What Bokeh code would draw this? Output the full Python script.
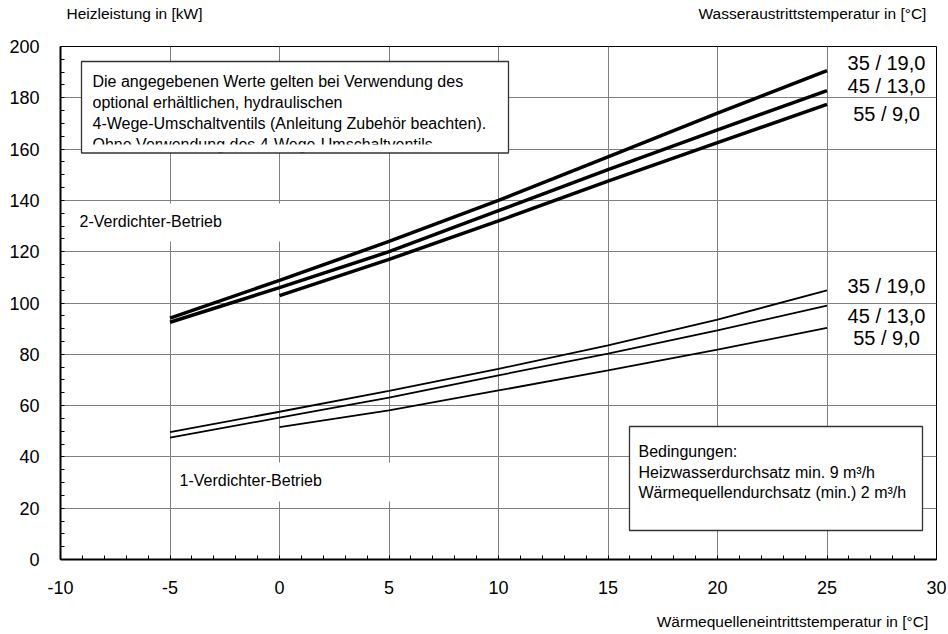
from bokeh.plotting import figure
from bokeh.models import SingleIntervalTicker, FixedTicker, LinearAxis
from bokeh.core.properties import value
from bokeh.embed import file_html
from bokeh.resources import INLINE

# ---------------- data ----------------
x_from_m5 = [-5, 0, 5, 10, 15, 20, 25]
x_from_0 = [0, 5, 10, 15, 20, 25]

# 2-Verdichter-Betrieb (thick lines)
two_35_19 = [94.1, 108.8, 124.0, 140.0, 157.0, 174.0, 190.6]
two_45_13 = [92.5, 106.0, 120.0, 136.0, 152.0, 167.5, 182.8]
two_55_9 = [102.9, 117.0, 132.0, 147.5, 162.5, 177.4]

# 1-Verdichter-Betrieb (thin lines)
one_35_19 = [49.7, 57.6, 65.7, 74.3, 83.5, 93.5, 104.9]
one_45_13 = [47.5, 55.3, 63.1, 71.8, 80.3, 89.3, 99.0]
one_55_9 = [51.6, 58.1, 65.9, 73.7, 81.8, 90.3]

series_labels = ["35 / 19,0", "45 / 13,0", "55 / 9,0"]

x_ticks_interval = 5
y_ticks_interval = 20
x_tick_overrides = {-10: "-10", -5: "-5"}

y_title = "Heizleistung in [kW]"
legend_title = "Wasseraustrittstemperatur in [°C]"
x_title = "Wärmequelleneintrittstemperatur in [°C]"

note_lines = [
    "Die angegebenen Werte gelten bei Verwendung des",
    "optional erhältlichen, hydraulischen",
    "4-Wege-Umschaltventils (Anleitung Zubehör beachten).",
    "Ohne Verwendung des 4-Wege-Umschaltventils",
]
cond_lines = [
    "Bedingungen:",
    "Heizwasserdurchsatz min. 9 m³/h",
    "Wärmequellendurchsatz (min.) 2 m³/h",
]

FONT = "Liberation Sans"

# ---------------- layout helpers (page pixel -> data) ----------------
FL, FW, FT, FH = 60, 876, 46, 513   # frame left/width/top/height on canvas
XMIN, XMAX, YMIN, YMAX = -10, 30, 0, 200


def dx(px):
    return XMIN + (px - FL) / FW * (XMAX - XMIN)


def dy(py):
    return YMIN + (FT + FH - py) / FH * (YMAX - YMIN)


UPY = (YMAX - YMIN) / FH   # data units per pixel (y)

p = figure(frame_width=FW, frame_height=FH, x_range=(XMIN, XMAX), y_range=(YMIN, YMAX),
           output_backend="svg", toolbar_location=None,
           min_border_left=FL, min_border_right=11, min_border_top=FT, min_border_bottom=60)
p.background_fill_color = "white"
p.border_fill_color = "white"
p.outline_line_color = "black"
p.outline_line_width = 1

xt = SingleIntervalTicker(interval=x_ticks_interval, num_minor_ticks=5)
yt = SingleIntervalTicker(interval=y_ticks_interval, num_minor_ticks=4)
p.xaxis.ticker = xt
p.yaxis.ticker = yt
p.xgrid.ticker = xt
p.ygrid.ticker = yt
p.xaxis.major_label_overrides = x_tick_overrides
for g in (p.xgrid, p.ygrid):
    g.grid_line_color = "#808080"
    g.grid_line_width = 1

for ax in (p.xaxis, p.yaxis):
    ax.axis_line_color = "black"
    ax.axis_line_width = 2
    ax.major_tick_in = 0
    ax.major_tick_out = 0
    ax.minor_tick_in = 4
    ax.minor_tick_out = 0
    ax.minor_tick_line_color = "black"
    ax.major_label_text_font = FONT
    ax.major_label_text_font_size = "18px"
    ax.major_label_text_color = "black"
p.yaxis.major_label_standoff = 21
p.xaxis.major_label_standoff = 21


def title_axis(ticks, texts, standoff):
    return LinearAxis(ticker=FixedTicker(ticks=ticks, minor_ticks=[]),
                      major_label_overrides=dict(zip(ticks, texts)),
                      axis_line_color=None, major_tick_line_color=None,
                      minor_tick_line_color=None, major_label_standoff=standoff,
                      major_label_text_font=FONT, major_label_text_font_size="15.5px",
                      major_label_text_color="black")


# ---------------- titles (as tick labels of extra, invisible axes) ----------------
t1 = round(dx(134), 4)
t2 = round(dx(812), 4)
p.add_layout(title_axis([t1, t2], [y_title, legend_title], 19), "above")
t3 = round(dx(792), 4)
p.add_layout(title_axis([t3], [x_title], 10), "below")

# ---------------- label background boxes (hide grid) ----------------
p.quad(left=[dx(68), dx(172)], right=[dx(292), dx(395)],
       top=[dy(203), dy(462)], bottom=[dy(241), dy(501)],
       fill_color="white", line_color=None)

# ---------------- curves ----------------
p.line(x_from_m5, two_35_19, line_color="black", line_width=3.5)
p.line(x_from_m5, two_45_13, line_color="black", line_width=3.5)
p.line(x_from_0, two_55_9, line_color="black", line_width=3.5)
p.line(x_from_m5, one_35_19, line_color="black", line_width=1.8)
p.line(x_from_m5, one_45_13, line_color="black", line_width=1.8)
p.line(x_from_0, one_55_9, line_color="black", line_width=1.8)

txt_kw = dict(text_font=value(FONT), text_color="black", text_baseline="middle")

# mode labels
p.text(x=[dx(79), dx(179)], y=[dy(221), dy(480)],
       text=["2-Verdichter-Betrieb", "1-Verdichter-Betrieb"],
       text_font_size=value("16px"), text_align="left", **txt_kw)

# series labels at the right end of the curves (pixel offsets from the end values)
lab_x = dx(886)
p.text(x=[lab_x] * 3,
       y=[two_35_19[-1] + 8 * UPY, two_45_13[-1] + 4.5 * UPY, two_55_9[-1] - 9.5 * UPY],
       text=series_labels, text_font_size=value("20px"), text_align="center", **txt_kw)
p.text(x=[lab_x] * 3,
       y=[one_35_19[-1] + 4 * UPY, one_45_13[-1] - 10 * UPY, one_55_9[-1] - 10.5 * UPY],
       text=series_labels, text_font_size=value("20px"), text_align="center", **txt_kw)

# ---------------- note box (top left) ----------------
p.quad(left=[dx(81)], right=[dx(508)], top=[dy(61)], bottom=[dy(152.5)],
       fill_color="white", line_color=None)
p.text(x=[dx(92)] * 4, y=[dy(81), dy(102), dy(123), dy(144)], text=note_lines,
       text_font_size=value("16px"), text_align="left", **txt_kw)
p.quad(left=[dx(82)], right=[dx(507)], top=[dy(144)], bottom=[dy(152)],
       fill_color="white", line_color=None)
p.quad(left=[dx(81)], right=[dx(508)], top=[dy(61)], bottom=[dy(152.5)],
       fill_color=None, line_color="#333333", line_width=1.3)

# ---------------- conditions box (bottom right) ----------------
p.quad(left=[dx(629)], right=[dx(922)], top=[dy(426)], bottom=[dy(530)],
       fill_color="white", line_color="#333333", line_width=1.3)
p.text(x=[dx(638)] * 3, y=[dy(451), dy(471.5), dy(492)], text=cond_lines,
       text_font_size=value("16px"), text_align="left", **txt_kw)

open("out.html", "w").write(file_html(p, INLINE))
